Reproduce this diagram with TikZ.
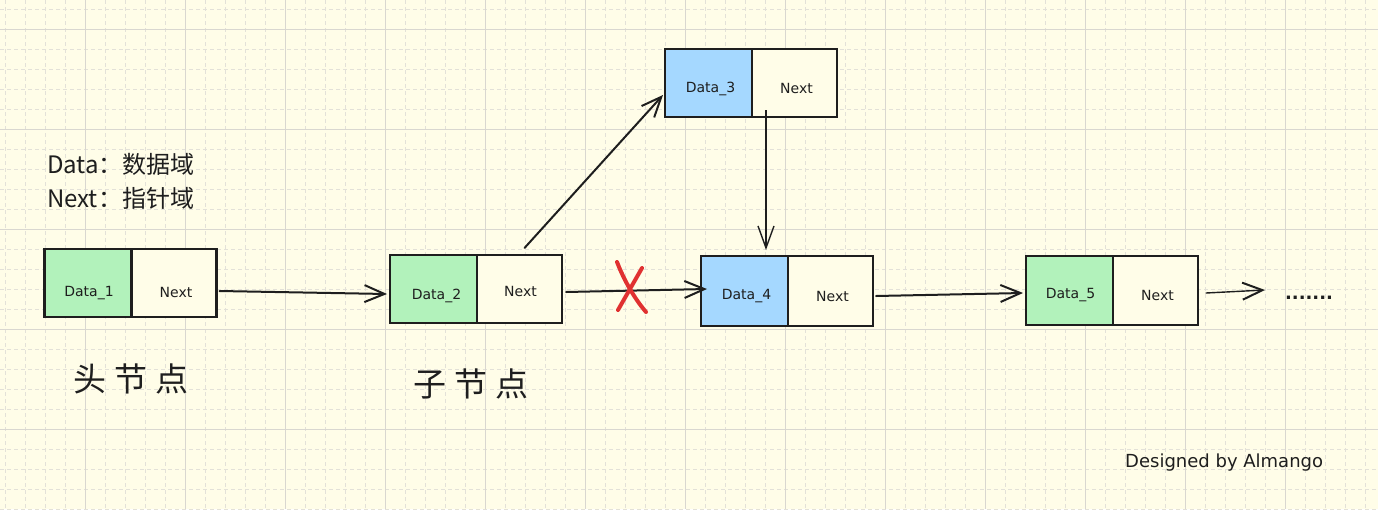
\documentclass[tikz,border=0pt]{standalone}
\usepackage{fontspec}
\setmainfont{Noto Sans CJK SC}
\newfontfamily\cjk{Noto Sans CJK SC}
\newfontfamily\hand{DejaVu Sans}
\usetikzlibrary{arrows.meta,calc}
\definecolor{bg}{HTML}{FFFDE8}
\definecolor{gridminor}{HTML}{E3E1D8}
\definecolor{gridmajor}{HTML}{D9D7D0}
\definecolor{ink}{HTML}{1E1E1E}
\definecolor{dgreen}{HTML}{B2F2BB}
\definecolor{dblue}{HTML}{A5D8FF}
\definecolor{xred}{HTML}{E03131}
\begin{document}
\begin{tikzpicture}[x=1pt,y=-1pt,
  field/.style={draw=ink, line width=2.4pt, minimum height=68pt, inner sep=0pt, outer sep=0pt,
    text height=0pt, text depth=0pt, font=\hand\fontsize{14}{14}\selectfont, text=ink},
  datafield/.style={field, minimum width=87pt},
  nextfield/.style={field, minimum width=85pt, fill=bg},
  link/.style={draw=ink, line width=2pt, line cap=round,
    -{Straight Barb[length=20pt,width=17pt,line width=2pt]}},
  thinlink/.style={draw=ink, line width=1.1pt,
    -{Straight Barb[length=22pt,width=16pt,line width=1.4pt]}},
  legend/.style={anchor=base west, inner sep=0pt, font=\cjk\fontsize{24}{24}\selectfont, text=ink},
  title/.style={inner sep=0pt, font=\cjk\fontsize{33}{33}\selectfont, text=ink},
]
% background and grid
\path[fill=bg] (0,0) rectangle (1378,509);
\useasboundingbox (0,0) rectangle (1378,509);
\foreach \i in {0,...,68}
  \draw[gridminor, line width=1pt, dash pattern=on 4pt off 3pt] (5+20*\i,0) -- (5+20*\i,509);
\foreach \j in {0,...,25}
  \draw[gridminor, line width=1pt, dash pattern=on 4pt off 3pt] (0,9+20*\j) -- (1378,9+20*\j);
\foreach \i in {0,...,12}
  \draw[gridmajor, line width=1pt] (85+100*\i,0) -- (85+100*\i,509);
\foreach \j in {0,...,4}
  \draw[gridmajor, line width=1pt] (0,29+100*\j) -- (1378,29+100*\j);

% nodes
\node[datafield, fill=dgreen] (d1) at (88,283) {\raisebox{-13pt}{\hspace{2pt}Data\_1}};
\node[nextfield, anchor=west] (n1) at (d1.east) {\raisebox{-14pt}{\hspace{4pt}Next}};

\node[datafield, fill=dgreen] (d2) at (433.5,289) {\raisebox{-10pt}{\hspace{6pt}Data\_2}};
\node[nextfield, anchor=west] (n2) at (d2.east) {\raisebox{-7pt}{\hspace{2pt}Next}};

\node[datafield, fill=dblue] (d3) at (708.5,83) {\raisebox{-9pt}{\hspace{4pt}Data\_3}};
\node[nextfield, anchor=west] (n3) at (d3.east) {\raisebox{-10pt}{\hspace{4pt}Next}};

\node[datafield, fill=dblue, minimum height=70pt] (d4) at (744.5,291) {\raisebox{-8pt}{\hspace{4pt}Data\_4}};
\node[nextfield, anchor=west, minimum height=70pt] (n4) at (d4.east) {\raisebox{-10pt}{\hspace{4pt}Next}};

\node[datafield, fill=dgreen, minimum height=69pt] (d5) at (1069.5,290.5) {\raisebox{-8pt}{\hspace{2pt}Data\_5}};
\node[nextfield, anchor=west, minimum height=69pt] (n5) at (d5.east) {\raisebox{-10pt}{\hspace{4pt}Next}};

\coordinate (more) at (1265,290);

% connectors
\draw[link] ($(n1.east)+(3,8)$) -- ($(d2.west)+(-3,5)$);
\draw[link] ($(n2.north)+(5,-7)$) -- ($(d3.west)+(-2,12)$);
\draw[link] ($(n2.east)+(4,3)$) -- ($(d4.west)+(6,-2)$);
\draw[thinlink] ($(n3.south west)+(14,-7)$) -- ($(d4.north)+(21.5,-6)$);
\draw[link] ($(n4.east)+(3,5)$) -- ($(d5.west)+(-3,2.5)$);
\draw[link, line width=1.4pt] ($(n5.east)+(8,2.5)$) -- (more);

% red cross
\draw[xred, line width=4pt, line cap=round] (617,262) .. controls (624,280) and (634,298) .. (646,312);
\draw[xred, line width=4pt, line cap=round] (642,268) .. controls (634,282) and (626,296) .. (618,310);

% texts
\node[legend] (leg1) at (47,173) {Data：数据域};
\node[legend] (leg2) at (47,207) {Next：指针域};
\node[title] (head) at (131,379) {头\hspace{8pt}节\hspace{8pt}点};
\node[title] (child) at (471,384) {子\hspace{8pt}节\hspace{8pt}点};
\node[anchor=base, inner sep=0pt, font=\hand\bfseries\fontsize{18}{18}\selectfont, text=ink] (dots) at (1309,299) {.......};
\node[anchor=base west, inner sep=0pt, font=\hand\fontsize{18}{18}\selectfont, text=ink] (sig) at (1125,467) {Designed by Almango};
\end{tikzpicture}
\end{document}
